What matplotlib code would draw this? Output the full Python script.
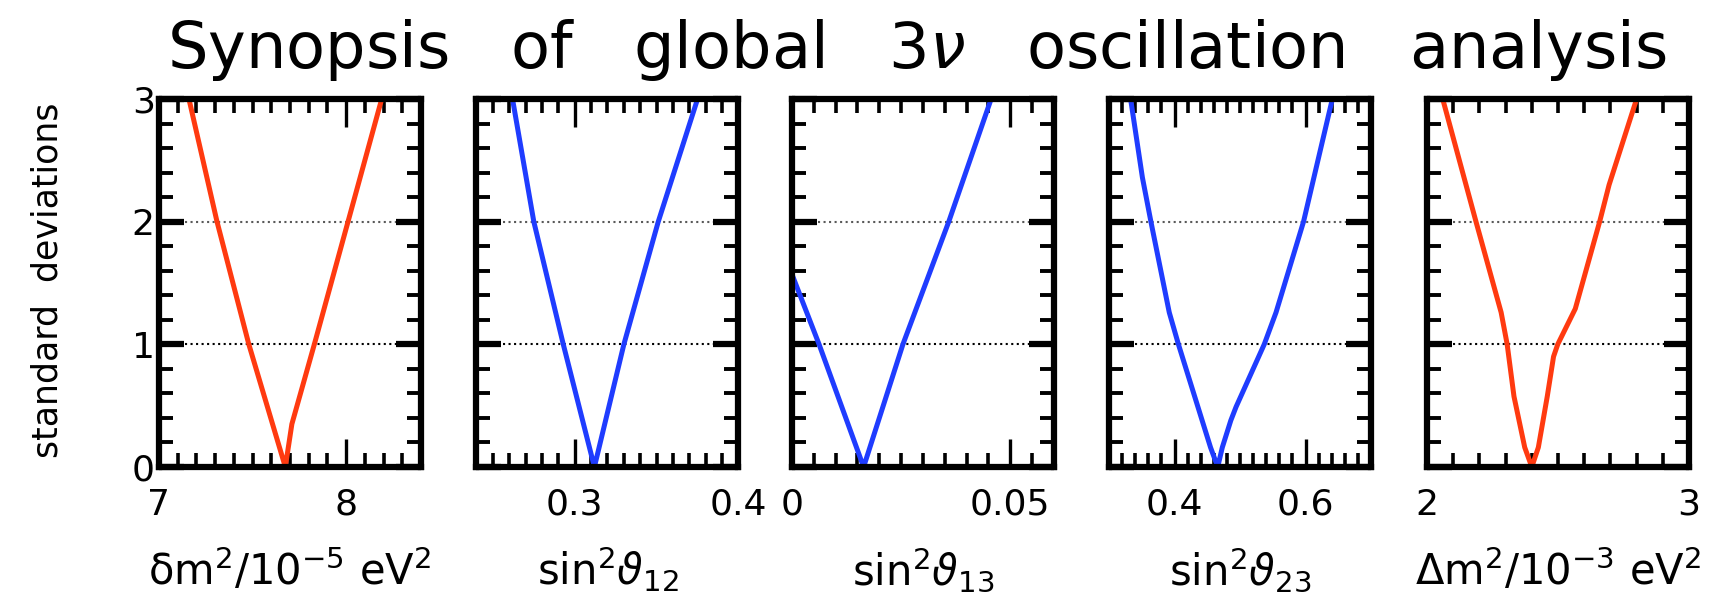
import matplotlib
matplotlib.use("Agg")
import matplotlib.pyplot as plt
import numpy as np

plt.rcParams['font.family'] = ['DejaVu Sans']
plt.rcParams['mathtext.fontset'] = 'dejavusans'

red = '#ff3a10'
blue = '#1f3cff'

# n-sigma curves (sigma, parameter value)
dm2_sig = [3, 2, 1, 0, 0.35, 1, 2, 3]
dm2_val = [7.16, 7.31, 7.48, 7.675, 7.71, 7.83, 8.01, 8.19]

s12_sig = [3, 2, 1, 0, 1, 2, 3]
s12_val = [0.262, 0.275, 0.293, 0.312, 0.330, 0.351, 0.375]

s13_sig = [1.57, 1, 0, 1, 2, 3]
s13_val = [0.0, 0.0062, 0.0164, 0.0254, 0.0359, 0.0456]

s23_sig = [3, 2.36, 2, 1.26, 1, 0.16, 0, 0.16, 0.38, 0.49, 1, 1.26, 2, 3]
s23_val = [0.333, 0.351, 0.364, 0.392, 0.406, 0.455, 0.466, 0.473, 0.486, 0.494,
           0.537, 0.555, 0.597, 0.641]

Dm2_sig = [3, 2, 1.26, 1, 0.575, 0.16, 0, 0.16, 0.575, 0.9, 1, 1.29, 2, 2.3, 3]
Dm2_val = [2.06, 2.187, 2.283, 2.306, 2.332, 2.373, 2.40, 2.425, 2.459, 2.483,
           2.499, 2.566, 2.659, 2.695, 2.80]

panels = [
    (dm2_val, dm2_sig, red, (7, 8.4), [7, 8], ['7', '8'], 0.1,
     r'$\mathrm{\delta m}^2/10^{-5}\ \mathrm{eV}^2$'),
    (s12_val, s12_sig, blue, (0.24, 0.40), [0.3, 0.4], ['0.3', '0.4'], 0.01,
     r'$\mathrm{sin}^2\vartheta_{12}$'),
    (s13_val, s13_sig, blue, (0, 0.06), [0, 0.05], ['0', '0.05'], 0.005,
     r'$\mathrm{sin}^2\vartheta_{13}$'),
    (s23_val, s23_sig, blue, (0.3, 0.7), [0.4, 0.6], ['0.4', '0.6'], 0.02,
     r'$\mathrm{sin}^2\vartheta_{23}$'),
    (Dm2_val, Dm2_sig, red, (2, 3), [2, 3], ['2', '3'], 0.1,
     r'$\mathrm{\Delta m}^2/10^{-3}\ \mathrm{eV}^2$'),
]

lefts = [159, 476.5, 792, 1109, 1427]
W, H = 1724, 595
fig = plt.figure(figsize=(W / 100, H / 100), dpi=100)

grid_levels = [1, 2]
grid_colors = ['k', '0.35']

for i, (xv, yv, col, xlim, majors, mlabels, minor, xlabel) in enumerate(panels):
    ax = fig.add_axes([lefts[i] / W, 1 - 467 / H, 262 / W, 368 / H])
    for g, gc in zip(grid_levels, grid_colors):
        ax.axhline(g, xmin=0.1, xmax=0.91, ls=':', color=gc, lw=1.5, zorder=1)
    ax.plot(xv, yv, color=col, lw=3.6, zorder=3)
    ax.set_xticks(majors)
    ax.set_xticklabels(mlabels)
    nmin = int(round((xlim[1] - xlim[0]) / minor))
    ax.set_xticks(xlim[0] + minor * np.arange(1, nmin), minor=True)
    ax.set_yticks([0, 1, 2, 3])
    ax.set_yticks(np.arange(1, 15) * 0.2, minor=True)
    ax.set_xlim(*xlim)
    ax.set_ylim(0, 3)
    for s in ax.spines.values():
        s.set_linewidth(4.5)
        s.set_zorder(5)
    ax.tick_params(axis='both', which='both', direction='in', top=True, right=True)
    ax.tick_params(axis='x', which='major', length=20, width=2.4, pad=15, labelsize=26)
    ax.tick_params(axis='x', which='minor', length=10, width=2.6)
    ax.tick_params(axis='y', which='major', length=18, width=4.5, pad=3, labelsize=26)
    ax.tick_params(axis='y', which='minor', length=10, width=2.8)
    if i > 0:
        ax.tick_params(axis='y', labelleft=False)
    fig.text((lefts[i] + 131) / W, 1 - 585 / H, xlabel, ha='center', va='baseline',
             fontsize=30)

fig.text(917 / W, 1 - 68 / H,
         'Synopsis   of   global   3$\\nu$   oscillation   analysis',
         ha='center', va='baseline', fontsize=46)
fig.text(48 / W, 1 - 280 / H, 'standard  deviations', rotation=90,
         ha='center', va='center', fontsize=25)

fig.savefig('out.png', dpi=100)
